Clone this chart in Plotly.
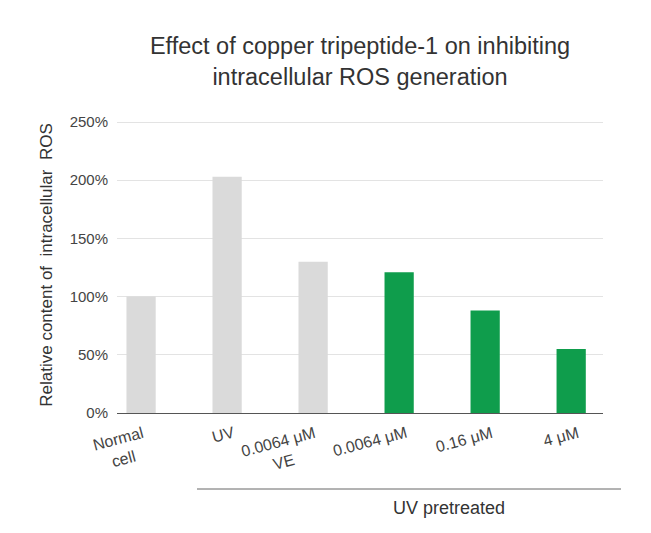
import plotly.graph_objects as go

categories = ["Normal<br>cell", "UV", "0.0064 μM<br>VE", "0.0064 μM", "0.16 μM", "4 μM"]
values = [1.00, 2.03, 1.30, 1.21, 0.88, 0.55]
bar_colors = ["#dadada", "#dadada", "#dadada", "#0f9d4c", "#0f9d4c", "#0f9d4c"]
y_ticks = [0, 0.5, 1.0, 1.5, 2.0, 2.5]
group_label = "UV pretreated"
title_text = "Effect of copper tripeptide-1 on inhibiting<br>intracellular ROS generation"
y_title = "Relative content of\u00a0 intracellular\u00a0 ROS"

font_family = "Liberation Sans, Arial, sans-serif"

fig = go.Figure()
fig.add_trace(go.Bar(
    x=list(range(len(categories))),
    y=values,
    marker=dict(color=bar_colors, line=dict(width=0)),
    hoverinfo="skip",
))

W, H = 651, 533
L, R, T, B = 117, 48, 117, 120
PW, PH = W - L - R, H - T - B
y_top = 2.5 * (413 - T) / (413 - 122)

fig.update_layout(
    width=W, height=H,
    margin=dict(l=L, r=R, t=T, b=B),
    paper_bgcolor="white",
    plot_bgcolor="white",
    bargap=0.66,
    showlegend=False,
    font=dict(family=font_family, color="#444444"),
    title=dict(
        text=title_text,
        x=0.5, xref="paper", xanchor="center",
        y=1 - 54 / H, yref="container", yanchor="middle",
        font=dict(size=23.5, color="#333333", family=font_family),
    ),
)

fig.update_xaxes(
    tickmode="array",
    tickvals=list(range(len(categories))),
    showticklabels=False,
    range=[-0.28, 5.37],
    showgrid=False,
    showline=True,
    linecolor="#555555",
    linewidth=1,
    ticks="",
    zeroline=False,
)
fig.update_yaxes(
    range=[0, y_top],
    tickvals=y_ticks,
    tickformat=".0%",
    tickfont=dict(size=15, color="#444444"),
    showgrid=True,
    gridcolor="#e3e3e3",
    gridwidth=1,
    zeroline=False,
    showline=False,
    ticklabelstandoff=8,
    title=dict(text=y_title, font=dict(size=17, color="#333333"), standoff=12),
)

# category labels, rotated, anchored by their right edge near each category
for i, lab in enumerate(categories):
    fig.add_annotation(
        text=lab, x=i, xref="x", y=(H - B - 421) / PH, yref="paper",
        xanchor="right", yanchor="top", xshift=12, showarrow=False,
        textangle=-15, align="center",
        font=dict(size=16, color="#444444", family=font_family),
    )

# group bracket line + label
fig.add_shape(
    type="line", xref="paper", yref="paper",
    x0=(197 - L) / PW, x1=(621 - L) / PW,
    y0=(H - B - 489) / PH, y1=(H - B - 489) / PH,
    line=dict(color="#666666", width=1),
)
fig.add_annotation(
    text=group_label, xref="paper", yref="paper",
    x=(449 - L) / PW, y=(H - B - 508) / PH,
    xanchor="center", yanchor="middle", showarrow=False,
    font=dict(size=18, color="#333333", family=font_family),
)

fig.write_html("out.html")
